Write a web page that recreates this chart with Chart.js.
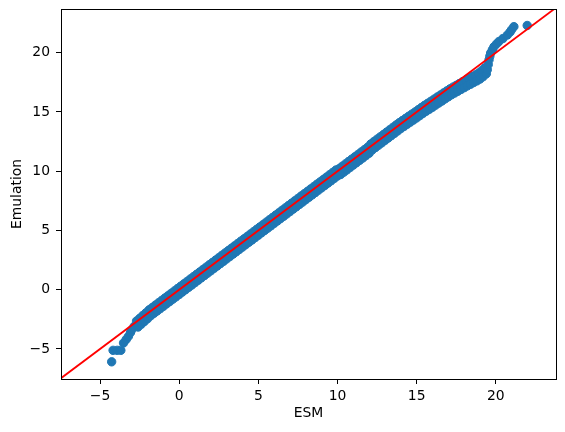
<!DOCTYPE html>
<html>
<head>
<meta charset="utf-8">
<script src="https://cdn.jsdelivr.net/npm/chart.js@4"></script>
<style>
  html, body { margin: 0; padding: 0; background: #fff; }
</style>
</head>
<body>
<canvas id="chart" width="565" height="432"></canvas>
<script>
// ESM vs emulation
// low tail
const tailEsm = [-4.27, -4.18, -3.92, -3.69, -3.52, -3.35, -3.21, -3.08, -3.0, -2.85];
const tailEmu = [-6.09, -5.12, -5.12, -5.12, -4.5, -4.2, -3.94, -3.62, -3.38, -3.1];

// upper edge of the band
const upperEsm = [-2.7, -2.5, -2.3, -2.1, -1.9, -1.7, -1.5, -1.3, -1.1, -0.9,
  -0.7, -0.5, -0.3, -0.1, 0.1, 0.3, 0.5, 0.7, 0.9, 1.1,
  1.3, 1.5, 1.7, 1.9, 2.1, 2.3, 2.5, 2.7, 2.9, 3.1,
  3.3, 3.5, 3.7, 3.9, 4.1, 4.3, 4.5, 4.7, 4.9, 5.1,
  5.3, 5.5, 5.7, 5.9, 6.1, 6.3, 6.5, 6.7, 6.9, 7.1,
  7.3, 7.5, 7.7, 7.9, 8.1, 8.3, 8.5, 8.7, 8.9, 9.1,
  9.3, 9.5, 9.7, 9.9, 10.1, 10.3, 10.5, 10.7, 10.9, 11.1,
  11.3, 11.5, 11.7, 11.9, 12.1, 12.3, 12.5, 12.7, 12.9, 13.1,
  13.3, 13.5, 13.7, 13.9, 14.1, 14.3, 14.5, 14.7, 14.9, 15.1,
  15.3, 15.5, 15.7, 15.9, 16.1, 16.3, 16.5, 16.7, 16.9, 17.1,
  17.3, 17.5, 17.7, 17.9, 18.1, 18.3, 18.5, 18.7, 18.9, 19.1,
  19.3];
const upperEmu = [-2.65, -2.42, -2.18, -1.95, -1.7, -1.5, -1.3, -1.1, -0.9, -0.7,
  -0.5, -0.3, -0.1, 0.1, 0.3, 0.5, 0.7, 0.9, 1.1, 1.3,
  1.5, 1.7, 1.9, 2.1, 2.3, 2.5, 2.7, 2.9, 3.1, 3.3,
  3.5, 3.7, 3.9, 4.1, 4.3, 4.5, 4.7, 4.9, 5.1, 5.3,
  5.5, 5.7, 5.9, 6.1, 6.3, 6.5, 6.7, 6.9, 7.1, 7.3,
  7.5, 7.7, 7.9, 8.1, 8.3, 8.5, 8.7, 8.9, 9.1, 9.3,
  9.5, 9.7, 9.9, 10.1, 10.22, 10.42, 10.62, 10.82, 11.02, 11.22,
  11.42, 11.62, 11.82, 12.02, 12.3, 12.5, 12.7, 12.9, 13.1, 13.3,
  13.5, 13.7, 13.9, 14.1, 14.28, 14.46, 14.64, 14.82, 15.0, 15.19,
  15.38, 15.56, 15.73, 15.9, 16.08, 16.26, 16.43, 16.61, 16.78, 16.95,
  17.1, 17.25, 17.4, 17.55, 17.7, 17.84, 17.98, 18.12, 18.28, 18.48,
  18.72];

// lower edge of the band
const lowerEsm = [-2.6, -2.4, -2.2, -2.0, -1.8, -1.6, -1.4, -1.2, -1.0, -0.8,
  -0.6, -0.4, -0.2, 0.0, 0.2, 0.4, 0.6, 0.8, 1.0, 1.2,
  1.4, 1.6, 1.8, 2.0, 2.2, 2.4, 2.6, 2.8, 3.0, 3.2,
  3.4, 3.6, 3.8, 4.0, 4.2, 4.4, 4.6, 4.8, 5.0, 5.2,
  5.4, 5.6, 5.8, 6.0, 6.2, 6.4, 6.6, 6.8, 7.0, 7.2,
  7.4, 7.6, 7.8, 8.0, 8.2, 8.4, 8.6, 8.8, 9.0, 9.2,
  9.4, 9.6, 9.8, 10.0, 10.2, 10.4, 10.6, 10.8, 11.0, 11.2,
  11.4, 11.6, 11.8, 12.0, 12.2, 12.4, 12.6, 12.8, 13.0, 13.2,
  13.4, 13.6, 13.8, 14.0, 14.2, 14.4, 14.6, 14.8, 15.0, 15.2,
  15.4, 15.6, 15.8, 16.0, 16.2, 16.4, 16.6, 16.8, 17.0, 17.2,
  17.4, 17.6, 17.8, 18.0, 18.2, 18.4, 18.6, 18.8, 19.0, 19.2,
  19.4];
const lowerEmu = [-3.15, -2.92, -2.68, -2.45, -2.2, -2.0, -1.8, -1.6, -1.4, -1.2,
  -1.0, -0.8, -0.6, -0.4, -0.2, 0.0, 0.2, 0.4, 0.6, 0.8,
  1.0, 1.2, 1.4, 1.6, 1.8, 2.0, 2.2, 2.4, 2.6, 2.8,
  3.0, 3.2, 3.4, 3.6, 3.8, 4.0, 4.2, 4.4, 4.6, 4.8,
  5.0, 5.2, 5.4, 5.6, 5.8, 6.0, 6.2, 6.4, 6.6, 6.8,
  7.0, 7.2, 7.4, 7.6, 7.8, 8.0, 8.2, 8.4, 8.6, 8.8,
  9.0, 9.2, 9.4, 9.6, 9.72, 9.92, 10.12, 10.32, 10.52, 10.72,
  10.92, 11.12, 11.32, 11.52, 11.8, 12.0, 12.2, 12.4, 12.6, 12.8,
  13.0, 13.2, 13.4, 13.6, 13.78, 13.96, 14.14, 14.32, 14.5, 14.69,
  14.88, 15.06, 15.23, 15.4, 15.58, 15.76, 15.93, 16.11, 16.28, 16.45,
  16.6, 16.75, 16.9, 17.05, 17.2, 17.34, 17.48, 17.62, 17.78, 17.98,
  18.22];

// high tail
const topEsm = [19.46, 19.52, 19.57, 19.62, 19.67, 19.78, 19.88, 20.05, 20.2, 20.45, 20.73, 20.9, 21.0, 21.14, 21.98];
const topEmu = [18.57, 19.0, 19.4, 19.7, 19.97, 20.25, 20.5, 20.75, 20.95, 21.2, 21.5, 21.75, 21.95, 22.2, 22.3];

const xMin = -7.47, xMax = 23.8;
const yMin = -7.54, yMax = 23.69;

function pairs(xs, ys) {
  return xs.map((x, i) => ({ x: x, y: ys[i] }));
}

const scatterPoints = [].concat(
  pairs(tailEsm, tailEmu),
  pairs(upperEsm, upperEmu),
  pairs(lowerEsm, lowerEmu),
  pairs(topEsm, topEmu)
);

const frame = {
  id: 'frame',
  afterDraw(chart) {
    const a = chart.chartArea;
    const ctx = chart.ctx;
    ctx.save();
    ctx.strokeStyle = '#000';
    ctx.lineWidth = 1;
    ctx.strokeRect(Math.round(a.left) + 0.5, Math.round(a.top) + 0.5,
      Math.round(a.right - a.left), Math.round(a.bottom - a.top));
    ctx.restore();
  }
};

const fmt = v => (v < 0 ? '\u2212' + Math.abs(v) : String(v));
const font = { family: 'DejaVu Sans', size: 13.9 };

new Chart(document.getElementById('chart').getContext('2d'), {
  type: 'scatter',
  data: {
    datasets: [
      {
        type: 'line',
        data: [{ x: xMin, y: xMin }, { x: xMax, y: xMax }],
        borderColor: '#ff0000',
        borderWidth: 1.8,
        pointRadius: 0,
        order: 0
      },
      {
        data: scatterPoints,
        backgroundColor: '#1f77b4',
        borderColor: '#1f77b4',
        borderWidth: 1,
        pointRadius: 4.2,
        order: 1
      }
    ]
  },
  options: {
    responsive: false,
    animation: false,
    devicePixelRatio: 1,
    layout: { padding: { top: 9, right: 9, left: 0, bottom: 0 } },
    plugins: { legend: { display: false }, tooltip: { enabled: false } },
    scales: {
      x: {
        type: 'linear',
        min: xMin,
        max: xMax,
        grid: { drawOnChartArea: false, drawTicks: true, tickLength: 5, color: '#000' },
        border: { display: true, color: '#000', width: 1 },
        ticks: { stepSize: 5, includeBounds: false, color: '#000', font: font, padding: 4, maxRotation: 0, callback: fmt },
        title: { display: true, text: 'ESM', color: '#000', font: font, padding: { top: 4, bottom: 10 } },
        afterFit(scale) {
          scale.height = 53;
          scale.paddingLeft = 0;
          scale.paddingRight = 0;
        }
      },
      y: {
        type: 'linear',
        min: yMin,
        max: yMax,
        grid: { drawOnChartArea: false, drawTicks: true, tickLength: 5, color: '#000' },
        border: { display: true, color: '#000', width: 1 },
        ticks: { stepSize: 5, includeBounds: false, color: '#000', font: font, padding: 6, callback: fmt },
        title: { display: true, text: 'Emulation', color: '#000', font: font, padding: { top: 9, bottom: 6 } },
        afterFit(scale) {
          scale.width = 61;
          scale.paddingTop = 0;
          scale.paddingBottom = 0;
        }
      }
    }
  },
  plugins: [frame]
});
</script>
</body>
</html>
